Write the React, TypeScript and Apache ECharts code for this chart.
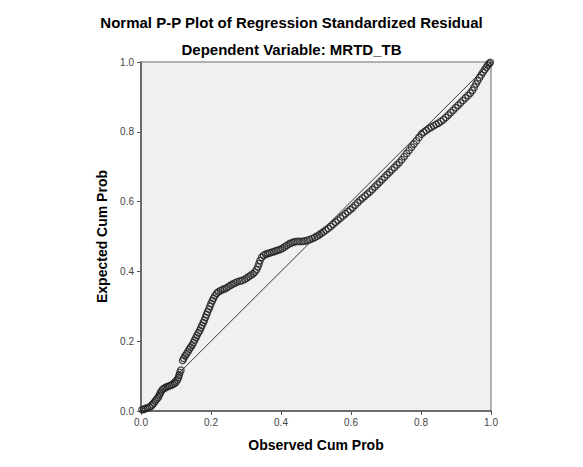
import { useEffect, useRef } from 'react';
import * as echarts from 'echarts';

// observed cumulative probability (x) and expected cumulative probability (y)
const observedProb = [
  0.003, 0.008, 0.013, 0.018, 0.024, 0.029, 0.033, 0.037, 0.041, 0.045, 0.049, 0.052, 0.055, 0.058,
  0.062, 0.066, 0.071, 0.076, 0.081, 0.086, 0.091, 0.096, 0.100, 0.104, 0.107, 0.109, 0.111, 0.114,
  0.119, 0.122, 0.126, 0.130, 0.134, 0.138, 0.142, 0.146, 0.150, 0.153, 0.157, 0.160, 0.164, 0.168,
  0.171, 0.174, 0.178, 0.181, 0.184, 0.187, 0.190, 0.194, 0.197, 0.200, 0.204, 0.207, 0.211, 0.216,
  0.221, 0.227, 0.233, 0.239, 0.245, 0.251, 0.257, 0.263, 0.269, 0.275, 0.282, 0.289, 0.296, 0.302,
  0.308, 0.314, 0.320, 0.325, 0.330, 0.334, 0.337, 0.340,
  0.345, 0.350, 0.356, 0.362, 0.368, 0.374, 0.380, 0.386, 0.392, 0.398, 0.404, 0.410, 0.416, 0.422,
  0.428, 0.434, 0.440, 0.447, 0.454, 0.461, 0.468, 0.475, 0.482, 0.489, 0.496, 0.503, 0.509, 0.515,
  0.521, 0.528, 0.535, 0.542,
  0.549, 0.556, 0.563, 0.570, 0.577, 0.584, 0.591, 0.598, 0.605, 0.612, 0.619, 0.626, 0.633, 0.640,
  0.647, 0.654, 0.661, 0.668, 0.675, 0.682, 0.689, 0.696, 0.703, 0.710, 0.717, 0.724, 0.731, 0.738,
  0.745, 0.752, 0.759, 0.766, 0.773, 0.780, 0.787, 0.794, 0.801, 0.808, 0.815, 0.822, 0.829, 0.836,
  0.843, 0.850, 0.857, 0.864, 0.871, 0.878, 0.885, 0.892, 0.899, 0.906, 0.913, 0.920, 0.927, 0.934,
  0.941, 0.947, 0.952, 0.957, 0.962, 0.967, 0.972, 0.977, 0.982, 0.987, 0.991, 0.995, 0.998,
];

const expectedProb = [
  0.004, 0.005, 0.007, 0.009, 0.011, 0.014, 0.018, 0.023, 0.029, 0.034, 0.039, 0.045, 0.051, 0.057,
  0.062, 0.065, 0.068, 0.070, 0.072, 0.074, 0.076, 0.079, 0.083, 0.089, 0.096, 0.103, 0.110, 0.117,
  0.145, 0.151, 0.158, 0.164, 0.170, 0.177, 0.183, 0.189, 0.196, 0.203, 0.210, 0.217, 0.224, 0.231,
  0.238, 0.245, 0.253, 0.260, 0.268, 0.276, 0.284, 0.292, 0.300, 0.308, 0.316, 0.323, 0.330, 0.337,
  0.341, 0.345, 0.348, 0.350, 0.353, 0.357, 0.361, 0.364, 0.367, 0.370, 0.372, 0.374, 0.377, 0.381,
  0.385, 0.389, 0.393, 0.398, 0.405, 0.413, 0.422, 0.431,
  0.440, 0.446, 0.449, 0.451, 0.453, 0.455, 0.457, 0.459, 0.461, 0.463, 0.466, 0.470, 0.474, 0.478,
  0.481, 0.483, 0.485, 0.486, 0.486, 0.486, 0.487, 0.489, 0.491, 0.494, 0.497, 0.501, 0.505, 0.509,
  0.513, 0.518, 0.523, 0.529,
  0.535, 0.541, 0.547, 0.553, 0.559, 0.565, 0.571, 0.577, 0.583, 0.590, 0.597, 0.604, 0.610, 0.616,
  0.622, 0.628, 0.635, 0.642, 0.649, 0.656, 0.663, 0.670, 0.677, 0.684, 0.691, 0.698, 0.705, 0.712,
  0.720, 0.729, 0.738, 0.747, 0.756, 0.765, 0.774, 0.784, 0.793, 0.799, 0.804, 0.809, 0.813, 0.817,
  0.821, 0.825, 0.830, 0.835, 0.841, 0.848, 0.855, 0.862, 0.869, 0.876, 0.883, 0.890, 0.897, 0.904,
  0.911, 0.919, 0.928, 0.937, 0.946, 0.955, 0.963, 0.971, 0.978, 0.985, 0.991, 0.996, 0.999,
];

// the reference diagonal
const diagonal = [
  [0, 0],
  [1, 1],
];

const titleText = 'Normal P-P Plot of Regression Standardized Residual';
const subtitleText = 'Dependent Variable: MRTD_TB';

const FONT = '"Liberation Sans", Arial, sans-serif';

const App = () => {
  const chartRef = useRef<HTMLDivElement>(null);

  useEffect(() => {
    document.body.style.margin = '0';
    if (!chartRef.current) return;
    const chart = echarts.init(chartRef.current, undefined, { renderer: 'svg' });

    const points = observedProb.map((x, i) => [x, expectedProb[i]]);

    const axisCommon = {
      type: 'value' as const,
      min: 0,
      max: 1,
      interval: 0.2,
      nameLocation: 'middle' as const,
      nameTextStyle: { fontFamily: FONT, fontWeight: 'bold' as const, fontSize: 14, color: '#000' },
      axisLine: { show: true, lineStyle: { color: '#555', width: 1.5 } },
      axisTick: { show: true, length: 4, lineStyle: { color: '#555' } },
      axisLabel: {
        fontFamily: FONT,
        fontSize: 10,
        color: '#444',
        formatter: (v: number) => v.toFixed(1),
      },
      splitLine: { show: false },
    };

    chart.setOption({
      animation: false,
      backgroundColor: '#fff',
      title: [
        {
          text: titleText,
          left: 'center',
          top: 10,
          textStyle: { fontFamily: FONT, fontWeight: 'bold', fontSize: 15, color: '#000' },
        },
        {
          text: subtitleText,
          left: 'center',
          top: 37,
          textStyle: { fontFamily: FONT, fontWeight: 'bold', fontSize: 15, color: '#000' },
        },
      ],
      grid: {
        left: 141,
        right: 92,
        top: 62,
        bottom: 56,
        show: true,
        backgroundColor: '#f0f0f0',
        borderColor: '#9a9a9a',
        borderWidth: 1.5,
      },
      xAxis: {
        ...axisCommon,
        name: 'Observed Cum Prob',
        nameGap: 27,
        axisLabel: { ...axisCommon.axisLabel, margin: 6 },
      },
      yAxis: {
        ...axisCommon,
        name: 'Expected Cum Prob',
        nameGap: 30,
        axisLabel: { ...axisCommon.axisLabel, margin: 7 },
      },
      series: [
        {
          type: 'line',
          data: diagonal,
          symbol: 'none',
          lineStyle: { color: '#3a3a3a', width: 1 },
          z: 2,
        },
        {
          type: 'scatter',
          data: points,
          symbol: 'circle',
          symbolSize: 6.5,
          itemStyle: { color: 'rgba(0,0,0,0)', borderColor: '#1e1e1e', borderWidth: 1.3 },
          z: 3,
        },
      ],
    });

    return () => {
      chart.dispose();
    };
  }, []);

  return <div ref={chartRef} style={{ width: '583px', height: '467px' }} />;
};

export default App;
